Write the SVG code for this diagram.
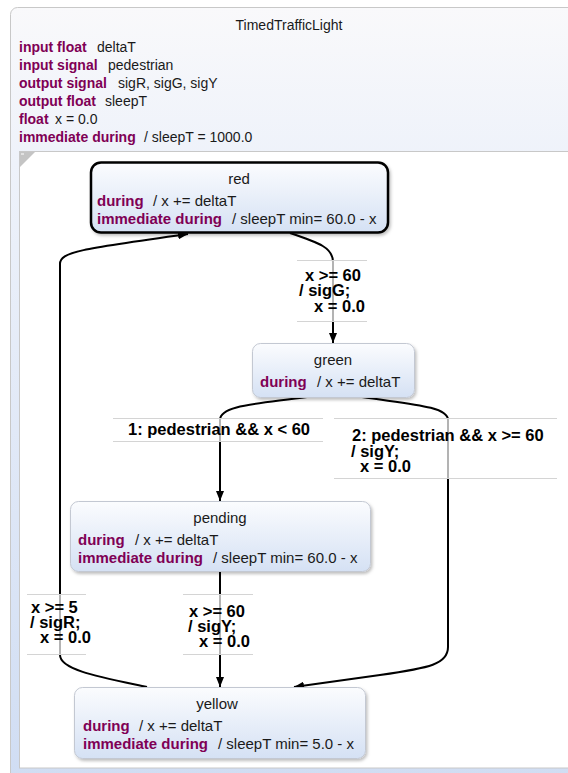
<svg xmlns="http://www.w3.org/2000/svg" width="568" height="773" viewBox="0 0 568 773">
<defs>
<linearGradient id="outerG" x1="0" y1="0" x2="0" y2="1">
<stop offset="0" stop-color="#f9f9fb"/>
<stop offset="0.2" stop-color="#eef2fa"/>
<stop offset="1" stop-color="#d0ddf3"/>
</linearGradient>
<linearGradient id="nodeG" x1="0" y1="0" x2="0" y2="1">
<stop offset="0" stop-color="#fbfcfe"/>
<stop offset="1" stop-color="#d5e1f4"/>
</linearGradient>
<filter id="sh" x="-10%" y="-10%" width="120%" height="130%">
<feDropShadow dx="1.5" dy="2" stdDeviation="1.5" flood-color="#000" flood-opacity="0.25"/>
</filter>
<marker id="arr" viewBox="0 0 10 8" refX="10" refY="4" markerWidth="10" markerHeight="8" markerUnits="userSpaceOnUse" orient="auto">
<path d="M0,0 L10,4 L0,8 z" fill="#000"/>
</marker>
</defs>
<style>
text{font-family:"Liberation Sans",Arial,Helvetica,sans-serif;fill:#1a1a1a}
.t{font-size:14px}
.k{font-size:14px;font-weight:bold;fill:#7f0055}
.nt{font-size:15px}
.nk{font-size:15px;font-weight:bold;fill:#7f0055}
.node{fill:url(#nodeG);stroke:#c3c8d2;stroke-width:1;filter:url(#sh)}
.init{fill:url(#nodeG);stroke:#000;stroke-width:2.5;filter:url(#sh)}
.e{fill:none;stroke:#000;stroke-width:2}
.lb{fill:#fff;fill-opacity:0.7}
.ll{stroke:#d4d4d4;stroke-width:1}
.lt{font-size:16.5px;font-weight:bold;fill:#000}
</style>
<rect x="10.5" y="7.5" width="580" height="775" rx="7" fill="url(#outerG)" stroke="#c8c8c8"/>
<g id="header">
<text class="t" x="289" y="30" text-anchor="middle">TimedTrafficLight</text>
<text class="k" x="19" y="52">input float</text><text class="t" x="97" y="52">deltaT</text>
<text class="k" x="19" y="70">input signal</text><text class="t" x="108" y="70">pedestrian</text>
<text class="k" x="19" y="88">output signal</text><text class="t" x="118" y="88">sigR, sigG, sigY</text>
<text class="k" x="19" y="106">output float</text><text class="t" x="105" y="106">sleepT</text>
<text class="k" x="19" y="124">float</text><text class="t" x="55" y="124">x = 0.0</text>
<text class="k" x="19" y="142">immediate during</text><text class="t" x="144" y="142">/ sleepT = 1000.0</text>
</g>
<rect x="19.5" y="151.5" width="560" height="616.5" fill="#fff" stroke="#c8c8c8"/>
<path d="M20,152 L35,152 L20,167 z" fill="#c4c4c4"/>
<line x1="21" y1="154" x2="24" y2="154" stroke="#fff" stroke-width="1"/>
<g id="connectors">
<path class="e" d="M290,233 C320,243 333,248 333,262 L333,343" marker-end="url(#arr)"/>
<path class="e" d="M307,397 C258,404 220,405 220,420 L220,501" marker-end="url(#arr)"/>
<path class="e" d="M362,397 C408,404 448,406 448,420 L448,647 C448,664 430,668 380,675 L294,687" marker-end="url(#arr)"/>
<path class="e" d="M220,572 L220,687" marker-end="url(#arr)"/>
<path class="e" d="M147,687 C100,677 60,670 60,655 L60,264 C60,252 80,249 188,234" marker-end="url(#arr)"/>
</g>
<g id="labels">
<rect class="lb" x="297" y="260" width="70" height="62"/>
<line class="ll" x1="297" y1="260.5" x2="367" y2="260.5"/><line class="ll" x1="297" y1="321.5" x2="367" y2="321.5"/>
<text class="lt" x="305" y="281">x &gt;= 60</text>
<text class="lt" x="299" y="296">/ sigG;</text>
<text class="lt" x="314" y="312">x = 0.0</text>
<rect class="lb" x="113" y="418" width="210" height="24"/>
<line class="ll" x1="113" y1="418.5" x2="323" y2="418.5"/><line class="ll" x1="113" y1="441.5" x2="323" y2="441.5"/>
<text class="lt" x="128" y="435">1: pedestrian &amp;&amp; x &lt; 60</text>
<rect class="lb" x="334" y="418" width="223" height="61"/>
<line class="ll" x1="334" y1="418.5" x2="557" y2="418.5"/><line class="ll" x1="334" y1="478.5" x2="557" y2="478.5"/>
<text class="lt" x="352" y="441">2: pedestrian &amp;&amp; x &gt;= 60</text>
<text class="lt" x="351" y="457">/ sigY;</text>
<text class="lt" x="360" y="472">x = 0.0</text>
<rect class="lb" x="183" y="594" width="70" height="61"/>
<line class="ll" x1="183" y1="594.5" x2="253" y2="594.5"/><line class="ll" x1="183" y1="654.5" x2="253" y2="654.5"/>
<text class="lt" x="189" y="617">x &gt;= 60</text>
<text class="lt" x="188" y="632">/ sigY;</text>
<text class="lt" x="199" y="647">x = 0.0</text>
<rect class="lb" x="27" y="594" width="59" height="61"/>
<line class="ll" x1="27" y1="594.5" x2="86" y2="594.5"/><line class="ll" x1="27" y1="654.5" x2="86" y2="654.5"/>
<text class="lt" x="31" y="613">x &gt;= 5</text>
<text class="lt" x="30" y="628">/ sigR;</text>
<text class="lt" x="40" y="643">x = 0.0</text>
</g>
<g id="red">
<rect class="init" x="91" y="162.5" width="297" height="70" rx="10"/>
<text class="nt" x="239" y="184" text-anchor="middle">red</text>
<text class="nk" x="97" y="206">during</text><text class="nt" x="153" y="206">/ x += deltaT</text>
<text class="nk" x="97" y="224">immediate during</text><text class="nt" x="232" y="224">/ sleepT min= 60.0 - x</text>
</g>
<g id="green">
<rect class="node" x="252.5" y="343.5" width="162" height="54" rx="8"/>
<text class="nt" x="333" y="365" text-anchor="middle">green</text>
<text class="nk" x="260" y="387">during</text><text class="nt" x="317" y="387">/ x += deltaT</text>
</g>
<g id="pending">
<rect class="node" x="70.5" y="501.5" width="300" height="70" rx="8"/>
<text class="nt" x="220" y="523" text-anchor="middle">pending</text>
<text class="nk" x="78" y="545">during</text><text class="nt" x="135" y="545">/ x += deltaT</text>
<text class="nk" x="78" y="563">immediate during</text><text class="nt" x="213" y="563">/ sleepT min= 60.0 - x</text>
</g>
<g id="yellow">
<rect class="node" x="74.5" y="687.5" width="291" height="71" rx="8"/>
<text class="nt" x="217" y="709" text-anchor="middle">yellow</text>
<text class="nk" x="83" y="731">during</text><text class="nt" x="139" y="731">/ x += deltaT</text>
<text class="nk" x="83" y="749">immediate during</text><text class="nt" x="218" y="749">/ sleepT min= 5.0 - x</text>
</g>
</svg>
